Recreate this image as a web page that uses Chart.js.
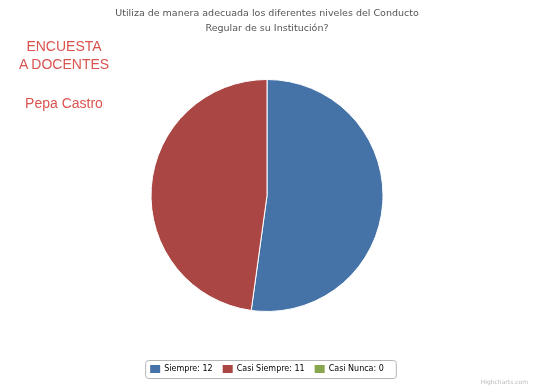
<!DOCTYPE html>
<html>
<head>
<meta charset="utf-8">
<script src="https://cdn.jsdelivr.net/npm/chart.js@4"></script>
<style>
  body { margin: 0; background: #fff; }
  #wrap { position: relative; width: 534px; height: 387px; }
  .side { position: absolute; left: 0; width: 128px; text-align: center;
          font-family: "Liberation Sans", Arial, sans-serif; font-size: 14px; color: #d9534f; }
  #credit { position: absolute; right: 6px; bottom: 2px; font: 6px "DejaVu Sans", sans-serif; color: #bbb; }
</style>
</head>
<body>
<div id="wrap">
  <canvas id="pieChart" width="534" height="387"></canvas>
  <div class="side" style="top:37px; line-height:18px;">ENCUESTA<br>A DOCENTES</div>
  <div class="side" style="top:95px;">Pepa Castro</div>
  <div id="credit">Highcharts.com</div>
</div>
<script>
const categories = ['Siempre', 'Casi Siempre', 'Casi Nunca'];
const answers = [12, 11, 0];
const colors = ['#4572A7', '#AA4643', '#89A54E'];

// rounded frame around the legend, like the old highcharts look
const legendFrame = {
  id: 'legendFrame',
  afterDraw(chart) {
    const lg = chart.legend;
    if (!lg || !lg.legendHitBoxes.length) return;
    const boxes = lg.legendHitBoxes;
    const last = boxes[boxes.length - 1];
    const x1 = boxes[0].left - 5;
    const x2 = last.left + last.width + 12;
    const y1 = boxes[0].top - 5;
    const h = boxes[0].height + 10;
    const ctx = chart.ctx;
    ctx.save();
    ctx.strokeStyle = '#b5b5b5';
    ctx.lineWidth = 1;
    ctx.beginPath();
    ctx.roundRect(x1 + 0.5, y1 + 0.5, x2 - x1, h, 3);
    ctx.stroke();
    ctx.restore();
  }
};

new Chart(document.getElementById('pieChart'), {
  type: 'pie',
  data: {
    labels: categories,
    datasets: [{
      data: answers,
      backgroundColor: colors,
      borderColor: '#fff',
      borderWidth: 1,
      radius: 116
    }]
  },
  options: {
    responsive: false,
    animation: false,
    layout: { padding: { top: 4, bottom: 4 } },
    plugins: {
      title: {
        display: true,
        text: ['Utiliza de manera adecuada los diferentes niveles del Conducto', 'Regular de su Institución?'],
        color: '#555',
        font: { family: 'DejaVu Sans', size: 9.5, weight: 'normal', lineHeight: '15px' },
        padding: { top: 2, bottom: 0 }
      },
      legend: {
        position: 'bottom',
        labels: {
          boxWidth: 10,
          boxHeight: 8,
          color: '#666',
          padding: 10,
          font: { family: 'DejaVu Sans', size: 8 },
          generateLabels(chart) {
            return categories.map((c, i) => ({
              text: c + ': ' + answers[i],
              fillStyle: colors[i],
              strokeStyle: colors[i],
              lineWidth: 0,
              index: i,
              hidden: false
            }));
          }
        }
      },
      tooltip: { enabled: false }
    }
  },
  plugins: [legendFrame]
});
</script>
</body>
</html>
